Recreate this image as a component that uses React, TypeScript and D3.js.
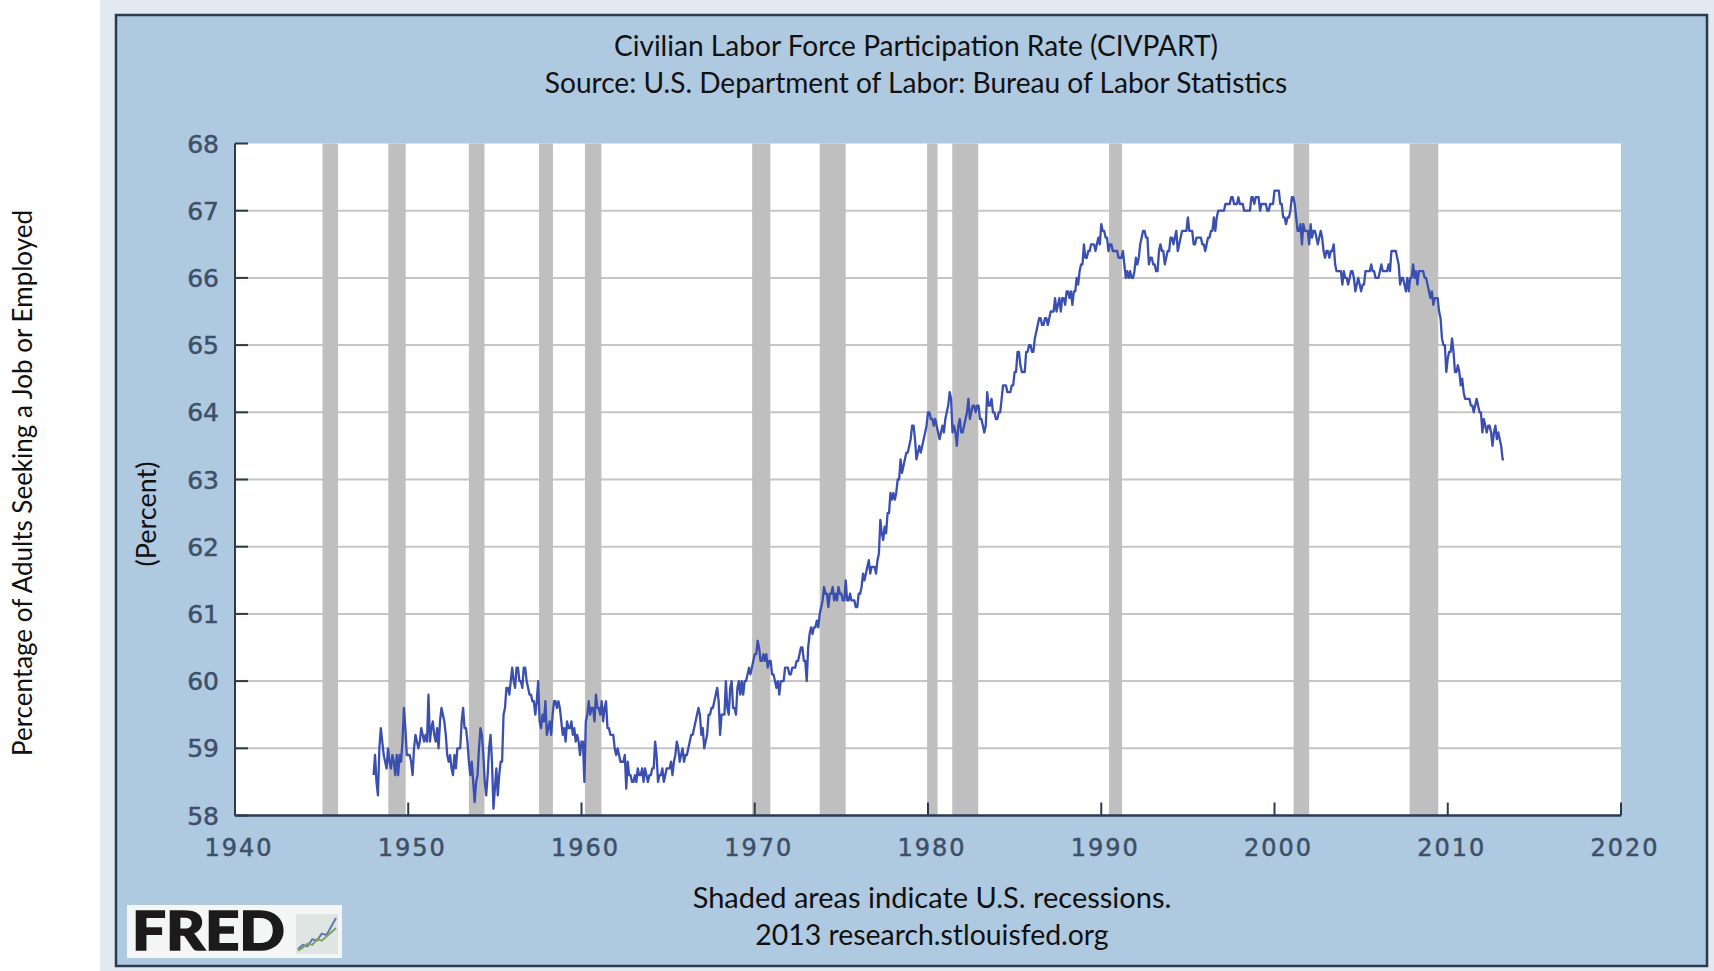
import React from "react";
import * as d3 from "d3";

const startYear = 1948;
const participation: number[] = [
  58.6,58.9,58.5,58.3,59.0,59.3,59.1,58.9,58.8,58.7,59.0,58.8,
  58.7,58.9,58.8,58.6,58.9,58.6,58.9,58.8,59.1,59.6,59.3,58.9,
  58.9,58.9,58.8,58.6,59.0,59.2,59.1,59.0,59.1,59.3,59.2,59.1,
  59.2,59.1,59.8,59.1,59.3,59.4,59.2,59.1,59.3,59.0,59.4,59.6,
  59.5,59.4,59.2,58.9,58.8,58.9,58.7,58.6,58.9,58.7,59.0,59.0,
  59.0,59.4,59.6,59.3,59.3,59.1,58.8,58.6,58.8,58.5,58.2,58.5,
  58.6,59.0,59.3,59.2,58.9,58.5,58.3,58.6,59.0,59.2,58.8,58.1,
  58.4,58.7,58.3,58.6,58.8,58.8,59.5,59.6,59.9,59.9,59.8,60.0,
  60.2,60.0,59.9,60.2,60.2,60.0,60.0,59.9,60.2,60.2,60.0,59.9,
  59.8,59.8,59.7,59.7,59.5,59.7,60.0,59.4,59.3,59.5,59.4,59.7,
  59.2,59.3,59.4,59.2,59.5,59.7,59.7,59.6,59.7,59.6,59.4,59.2,
  59.3,59.1,59.4,59.3,59.3,59.4,59.2,59.3,59.1,59.2,59.1,58.9,
  59.1,59.1,58.5,59.4,59.5,59.7,59.5,59.6,59.6,59.4,59.8,59.6,
  59.6,59.5,59.7,59.4,59.6,59.7,59.3,59.3,59.2,59.2,59.2,59.0,
  58.9,59.0,58.9,58.8,58.8,58.8,58.9,58.4,58.8,58.6,58.6,58.5,
  58.5,58.6,58.5,58.7,58.6,58.6,58.7,58.5,58.7,58.6,58.5,58.6,
  58.6,58.7,58.7,59.1,58.9,58.5,58.6,58.6,58.7,58.5,58.6,58.7,
  58.7,58.7,58.8,58.6,58.8,58.9,59.1,59.0,58.8,58.9,59.0,58.8,
  58.9,58.9,59.0,59.1,59.2,59.2,59.3,59.4,59.5,59.6,59.5,59.2,
  59.3,59.0,59.1,59.2,59.5,59.5,59.6,59.6,59.7,59.8,59.9,59.7,
  59.2,59.5,59.5,59.5,60.0,59.6,59.5,59.9,60.0,59.6,59.6,59.5,
  59.9,60.0,59.8,60.0,59.8,60.0,60.0,60.1,60.2,60.1,60.2,60.3,
  60.4,60.4,60.6,60.5,60.3,60.3,60.4,60.3,60.4,60.2,60.3,60.3,
  60.1,60.1,60.0,59.9,60.0,59.8,60.0,60.0,60.0,60.2,60.2,60.2,
  60.1,60.1,60.2,60.2,60.2,60.3,60.3,60.4,60.5,60.5,60.3,60.3,
  60.0,60.5,60.7,60.8,60.7,60.8,60.8,60.9,60.8,61.0,61.1,61.2,
  61.4,61.3,61.3,61.1,61.3,61.3,61.4,61.2,61.3,61.2,61.4,61.3,
  61.3,61.2,61.2,61.5,61.2,61.2,61.3,61.2,61.2,61.2,61.1,61.1,
  61.3,61.3,61.4,61.6,61.5,61.6,61.7,61.8,61.6,61.7,61.7,61.7,
  61.6,61.8,61.9,62.4,62.2,62.1,62.3,62.2,62.5,62.5,62.8,62.7,
  62.8,62.7,62.8,63.0,63.0,63.3,63.1,63.2,63.3,63.4,63.4,63.5,
  63.6,63.8,63.8,63.6,63.3,63.4,63.5,63.4,63.5,63.6,63.7,63.8,
  64.0,64.0,63.9,63.9,63.8,63.9,63.8,63.7,63.6,63.7,63.8,63.7,
  63.9,64.0,64.1,64.3,64.2,63.7,63.8,63.7,63.5,63.8,63.9,63.7,
  63.7,63.8,63.9,64.0,64.2,63.9,64.0,64.1,64.1,64.0,64.1,64.1,
  63.9,63.9,63.8,63.7,63.8,64.3,64.1,64.1,64.2,64.0,64.0,63.9,
  63.9,64.0,64.0,64.2,64.4,64.4,64.4,64.3,64.3,64.3,64.4,64.4,
  64.6,64.6,64.9,64.9,64.7,64.6,64.6,64.6,64.9,64.9,65.0,65.0,
  64.9,64.9,65.1,65.2,65.3,65.4,65.4,65.3,65.3,65.4,65.4,65.3,
  65.4,65.5,65.5,65.5,65.7,65.5,65.6,65.7,65.5,65.7,65.7,65.6,
  65.8,65.8,65.7,65.8,65.6,65.8,65.8,66.0,65.9,66.1,66.2,66.2,
  66.5,66.3,66.3,66.4,66.4,66.5,66.5,66.5,66.4,66.5,66.6,66.5,
  66.8,66.7,66.7,66.6,66.6,66.4,66.5,66.5,66.4,66.4,66.4,66.4,
  66.3,66.3,66.3,66.4,66.2,66.0,66.1,66.0,66.1,66.0,66.0,66.1,
  66.3,66.2,66.3,66.5,66.6,66.7,66.7,66.6,66.6,66.2,66.3,66.3,
  66.2,66.2,66.1,66.1,66.4,66.5,66.4,66.4,66.2,66.3,66.4,66.4,
  66.6,66.6,66.5,66.6,66.7,66.4,66.5,66.6,66.7,66.7,66.7,66.7,
  66.9,66.7,66.7,66.7,66.5,66.5,66.6,66.6,66.6,66.6,66.5,66.5,
  66.4,66.5,66.6,66.6,66.7,66.7,66.9,66.7,66.9,67.0,67.0,67.0,
  67.0,67.0,67.1,67.1,67.1,67.1,67.2,67.2,67.1,67.1,67.1,67.2,
  67.1,67.1,67.1,67.0,67.0,67.0,67.0,67.0,67.2,67.2,67.1,67.2,
  67.2,67.2,67.0,67.1,67.1,67.1,67.1,67.0,67.0,67.1,67.1,67.1,
  67.3,67.3,67.3,67.3,67.1,67.1,66.9,66.9,66.8,66.9,66.9,67.0,
  67.2,67.2,67.1,66.9,66.7,66.7,66.8,66.5,66.8,66.7,66.7,66.7,
  66.5,66.8,66.6,66.7,66.7,66.6,66.5,66.6,66.7,66.6,66.4,66.3,
  66.4,66.4,66.3,66.4,66.4,66.5,66.2,66.1,66.1,66.1,66.1,65.9,
  66.1,66.0,66.0,65.9,66.0,66.1,66.1,66.0,65.8,65.9,66.0,65.9,
  65.8,65.9,65.9,66.1,66.1,66.1,66.1,66.2,66.1,66.1,66.0,66.0,
  66.0,66.1,66.2,66.1,66.1,66.1,66.1,66.2,66.1,66.4,66.4,66.4,
  66.4,66.3,66.2,65.9,66.0,66.0,65.9,65.8,66.0,65.8,66.0,66.0,
  66.2,66.0,66.1,65.9,66.1,66.1,66.1,66.1,66.0,66.0,65.9,65.8,
  65.7,65.8,65.6,65.7,65.7,65.7,65.5,65.4,65.1,65.0,65.0,64.6,
  64.8,64.9,64.9,65.1,64.9,64.6,64.6,64.7,64.6,64.4,64.5,64.3,
  64.2,64.2,64.2,64.2,64.1,64.1,64.0,64.1,64.2,64.1,64.0,64.0,
  63.7,63.9,63.8,63.7,63.8,63.8,63.7,63.5,63.7,63.8,63.6,63.7,
  63.6,63.5,63.3,63.3,
];

const recessions: [number, number][] = [
  [1945.05,1945.95],[1948.85,1949.85],[1953.5,1954.4],[1957.55,1958.35],[1960.2,1961.15],
  [1969.85,1970.9],[1973.75,1975.25],[1979.95,1980.55],[1981.4,1982.9],[1990.45,1991.2],
  [2001.1,2002.0],[2007.8,2009.45],
];
const yTicks = [58,59,60,61,62,63,64,65,66,67,68];
const xTicks = [1940,1950,1960,1970,1980,1990,2000,2010,2020];
const titleLines = ["Civilian Labor Force Participation Rate (CIVPART)","Source: U.S. Department of Labor: Bureau of Labor Statistics"];
const footerLines = ["Shaded areas indicate U.S. recessions.","2013 research.stlouisfed.org"];
const sideLabel = "Percentage of Adults Seeking a Job or Employed";
const unitLabel = "(Percent)";
const logoBlue = [2,5,4,9,8,13,12,18,24];
const logoGreen = [1,3,6,5,9,8,11,14,17];

const x = d3.scaleLinear().domain([1940,2020]).range([235,1621]);
const y = d3.scaleLinear().domain([58,68]).range([815.5,143.5]);
const series = participation.map((v,i)=>({t:startYear+i/12,v}));
const path = d3.line<{t:number;v:number}>().x(d=>x(d.t)).y(d=>y(d.v))(series) as string;
const logoX = d3.scaleLinear().domain([0,8]).range([298,336]);
const logoY = d3.scaleLinear().domain([0,24]).range([952,918]);
const logoLine = (vals:number[]) => d3.line<number>().x((_,i)=>logoX(i)).y(d=>logoY(d))(vals) as string;

const bodyFont = "Lato, 'Open Sans', sans-serif";
const axisFont = "'DejaVu Sans', sans-serif";
const axisColor = "#3d5068";
const dark = "#2b3a4c";

export default function App(){
  return (
    <svg width={1714} height={971} style={{position:"absolute",left:0,top:0,display:"block",background:"#fff"}}>
      <rect x={100} y={0} width={1614} height={971} fill="#e3e9f1"/>
      <rect x={116} y={15} width={1591} height={951} fill="#afc9e1" stroke={dark} strokeWidth={2.5}/>
      <rect x={x(1940)} y={y(68)} width={x(2020)-x(1940)} height={y(58)-y(68)} fill="#fff"/>
      {yTicks.filter(t=>t>58&&t<68).map(t=>(
        <line key={t} x1={x(1940)} x2={x(2020)} y1={y(t)} y2={y(t)} stroke="#c6c6c6" strokeWidth={2}/>
      ))}
      {recessions.map(([a,b])=>(
        <rect key={a} x={x(a)} y={y(68)} width={x(b)-x(a)} height={y(58)-y(68)} fill="#bfbfbf"/>
      ))}
      <path d={path} fill="none" stroke="#3a4fb0" strokeWidth={2.3} strokeLinejoin="round"/>
      <line x1={x(1940)} x2={x(1940)} y1={y(68)} y2={y(58)} stroke={dark} strokeWidth={2}/>
      <line x1={x(1940)} x2={x(2020)} y1={y(58)} y2={y(58)} stroke={dark} strokeWidth={2.5}/>
      {yTicks.map(t=>(
        <g key={t}>
          <line x1={x(1940)} x2={x(1940)+13} y1={y(t)} y2={y(t)} stroke={dark} strokeWidth={2}/>
          <text x={219} y={y(t)+2} textAnchor="end" dominantBaseline="middle" fontFamily={axisFont} fontSize={25} stroke={axisColor} strokeWidth={0.5} fill={axisColor}>{t}</text>
        </g>
      ))}
      {xTicks.map(t=>(
        <g key={t}>
          <line x1={x(t)} x2={x(t)} y1={y(58)} y2={y(58)-13} stroke={dark} strokeWidth={2}/>
          <text x={x(t)+4} y={849} textAnchor="middle" dominantBaseline="middle" fontFamily={axisFont} fontSize={24} letterSpacing={2} stroke={axisColor} strokeWidth={0.5} fill={axisColor}>{t}</text>
        </g>
      ))}
      {titleLines.map((s,i)=>(
        <text key={s} x={916} y={49+i*37} textAnchor="middle" dominantBaseline="middle" fontFamily={bodyFont} fontSize={28.1} fill="#111">{s}</text>
      ))}
      {footerLines.map((s,i)=>(
        <text key={s} x={932} y={901+i*37} textAnchor="middle" dominantBaseline="middle" fontFamily={bodyFont} fontSize={i===0?29:28.4} fill="#111">{s}</text>
      ))}
      <text transform="translate(25,483) rotate(-90)" textAnchor="middle" dominantBaseline="middle" fontFamily={bodyFont} fontSize={26} fill="#111">{sideLabel}</text>
      <text transform="translate(149,514) rotate(-90)" textAnchor="middle" dominantBaseline="middle" fontFamily={bodyFont} fontSize={27} fill="#111">{unitLabel}</text>
      <rect x={127} y={905} width={215} height={53} fill="#f4f6f6"/>
      <text x={132} y={950} fontFamily="Lato, sans-serif" fontWeight={900} fontSize={54} fill="#1c1a1a" stroke="#1c1a1a" strokeWidth={1.5} textLength={153} lengthAdjust="spacingAndGlyphs">FRED</text>
      <rect x={296} y={914} width={42} height={40} fill="#dfe5e2"/>
      <path d={logoLine(logoBlue)} fill="none" stroke="#5d7ab5" strokeWidth={2}/>
      <path d={logoLine(logoGreen)} fill="none" stroke="#7fa35f" strokeWidth={2}/>
    </svg>
  );
}
